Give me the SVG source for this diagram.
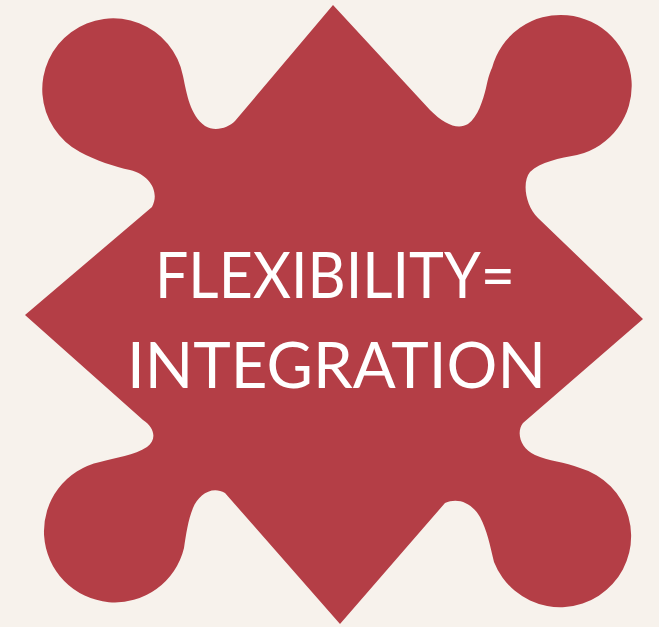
<svg xmlns="http://www.w3.org/2000/svg" width="659" height="627" viewBox="0 0 659 627">
<style>
.bg{fill:#f7f2ec}
.shape{fill:#b43e46}
.lbl{font-family:"Lato","Open Sans","Liberation Sans",sans-serif;font-size:63px;fill:#ffffff}
</style>
<rect class="bg" x="0" y="0" width="659" height="627"/>
<g id="puzzle">
<path class="shape" d="M333,5 L430,110 C445,125 458,130 468,124 C478,117 483,100 486,88 C488,78 490,72 492,68 A71,71 0 1 1 577,155 C560,158 540,162 530,172 C522,182 525,205 538,218 L643,319 L523,423 C516,432 520,448 535,455 C548,461 565,462 580,468 A71,71 0 1 1 494,562 C490,545 487,530 480,517 C472,503 458,497 445,503 L340,624 L225,493 C212,485 198,495 193,508 C188,520 186,535 184,548 A71,71 0 1 1 100,462 C115,458 135,455 147,447 C157,440 155,428 143,420 L25,315 L152,207 C160,192 150,175 130,170 C115,167 95,160 80,152 A71,71 0 1 1 183,76 C187,95 190,115 205,126 C215,132 228,128 235,121 Z"/>
</g>
<g id="label">
<text class="lbl" x="155" y="298" textLength="360" lengthAdjust="spacingAndGlyphs">FLEXIBILITY=</text>
<text class="lbl" x="127" y="388" textLength="419" lengthAdjust="spacingAndGlyphs">INTEGRATION</text>
</g>
</svg>
